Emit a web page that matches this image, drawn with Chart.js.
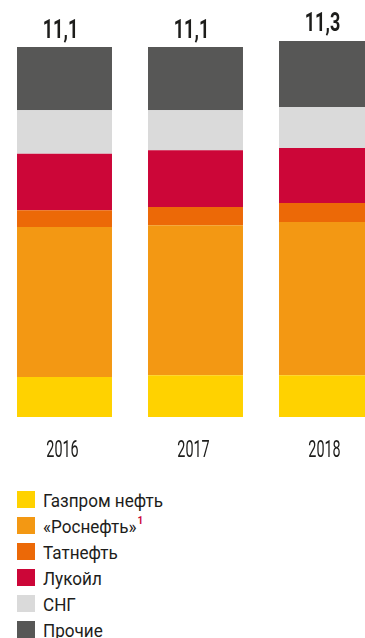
<!DOCTYPE html>
<html>
<head>
<meta charset="utf-8">
<script src="https://cdn.jsdelivr.net/npm/chart.js@4.4.1/dist/chart.umd.min.js"></script>
<style>
  html, body { margin: 0; padding: 0; background: #fff; overflow: hidden; }
  body { width: 365px; height: 638px; position: relative; }
  .chart-box { position: absolute; left: -1px; top: 0; width: 393px; height: 475px; }
  .legend { position: absolute; left: 17px; top: 486px; margin: 0; padding: 0; list-style: none;
            font-family: Roboto, sans-serif; font-size: 19px; color: #1d1d1b; }
  .legend li { height: 26px; display: flex; align-items: center; }
  .legend .sw { width: 18px; height: 17px; margin-right: 8px; flex: none; }
  .legend .tx { display: inline-block; transform: scaleX(0.9); transform-origin: left center; padding-top: 2px; white-space: nowrap; }
  .legend sup { color: #cc0638; font-size: 11px; font-weight: bold; position: relative; top: -1px; margin-left: 1px; }
</style>
</head>
<body>
<div class="chart-box"><canvas id="chart"></canvas></div>
<ul class="legend" id="legend"></ul>
<script>
// Годы
const years = ['2016', '2017', '2018'];

// Значения по компаниям, снизу вверх
const gazpromNeft = [1.2, 1.25, 1.25];
const rosneft = [4.5, 4.5, 4.6];
const tatneft = [0.5, 0.55, 0.57];
const lukoil = [1.7, 1.7, 1.65];
const sng = [1.3, 1.2, 1.23];
const other = [1.9, 1.9, 1.98];

// Итоги над столбцами
const totals = [11.1, 11.1, 11.3];

const seriesNames = ['Газпром нефть', '«Роснефть»', 'Татнефть', 'Лукойл', 'СНГ', 'Прочие'];
const seriesColors = ['#ffd200', '#f39813', '#ec6907', '#cc0638', '#dadada', '#575756'];
const seriesData = [gazpromNeft, rosneft, tatneft, lukoil, sng, other];

// Узкий текст: сжимаем по горизонтали
const drawNarrow = (ctx, text, x, y, sx) => {
    ctx.save();
    ctx.translate(x, y);
    ctx.scale(sx, 1);
    ctx.fillText(text, 0, 0);
    ctx.restore();
};

// Подписи итогов и годов
const labelsPlugin = {
    id: 'labels',
    afterDatasetsDraw(chart) {
        const ctx = chart.ctx;
        const x = chart.scales.x;
        const y = chart.scales.y;
        ctx.save();
        ctx.fillStyle = '#1d1d1b';
        ctx.textAlign = 'center';
        ctx.textBaseline = 'alphabetic';

        ctx.font = 'bold 25px Roboto, sans-serif';
        totals.forEach((t, i) => {
            drawNarrow(ctx, t.toFixed(1).replace('.', ','), x.getPixelForValue(i) - 4, y.getPixelForValue(t) - 9, 0.72);
        });

        ctx.font = '24px Roboto, sans-serif';
        years.forEach((yr, i) => {
            drawNarrow(ctx, yr, x.getPixelForValue(i) - 2, y.bottom + 40, 0.6);
        });
        ctx.restore();
    }
};

new Chart(document.getElementById('chart'), {
    type: 'bar',
    data: {
        labels: years,
        datasets: seriesData.map((d, i) => ({
            label: seriesNames[i],
            data: d,
            backgroundColor: seriesColors[i],
            borderWidth: 0
        }))
    },
    options: {
        responsive: true,
        maintainAspectRatio: false,
        animation: false,
        layout: { padding: { top: 17, left: 0, right: 0, bottom: 58 } },
        categoryPercentage: 0.725,
        barPercentage: 1,
        plugins: {
            legend: { display: false },
            tooltip: { enabled: false }
        },
        scales: {
            x: { stacked: true, display: false },
            y: { stacked: true, display: false, min: 0, max: 12 }
        }
    },
    plugins: [labelsPlugin]
});

// Легенда
const legend = document.getElementById('legend');
legend.innerHTML = seriesNames.map((name, i) => `
    <li><span class="sw" style="background:${seriesColors[i]}"></span><span class="tx">${name}${i === 1 ? '<sup>1</sup>' : ''}</span></li>
`).join('');
</script>
</body>
</html>
